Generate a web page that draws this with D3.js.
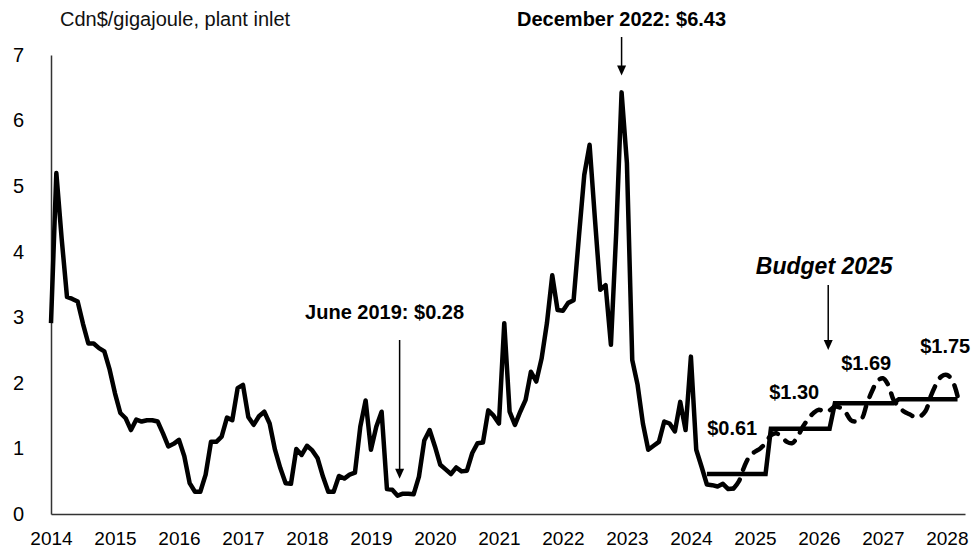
<!DOCTYPE html>
<html>
<head>
<meta charset="utf-8">
<script src="https://cdn.jsdelivr.net/npm/d3@7/dist/d3.min.js"></script>
<style>
  html, body { margin: 0; padding: 0; background: #fff; }
  svg { display: block; font-family: "Liberation Sans", Arial, Helvetica, sans-serif; }
</style>
</head>
<body>
<svg id="chart" width="974" height="548"></svg>
<script>
// Monthly natural gas price, Cdn$/GJ at plant inlet, from January 2014
const historyStart = 0;
const history = [
  2.91, 5.20, 4.20, 3.31, 3.28, 3.24, 2.90, 2.60, 2.60, 2.53, 2.48, 2.20,
  1.84, 1.54, 1.46, 1.28, 1.44, 1.41, 1.43, 1.43, 1.41, 1.23, 1.03, 1.07,
  1.13, 0.88, 0.47, 0.34, 0.34, 0.60, 1.10, 1.10, 1.18, 1.47, 1.43, 1.92,
  1.97, 1.48, 1.36, 1.49, 1.56, 1.38, 0.98, 0.70, 0.47, 0.46, 0.99, 0.90,
  1.04, 0.97, 0.85, 0.57, 0.34, 0.34, 0.58, 0.54, 0.60, 0.63, 1.33, 1.73,
  0.98, 1.33, 1.56, 0.38, 0.37, 0.28, 0.31, 0.31, 0.30, 0.57, 1.12, 1.28,
  1.03, 0.75, 0.68, 0.61, 0.71, 0.65, 0.66, 0.93, 1.08, 1.09, 1.58, 1.50,
  1.38, 2.91, 1.56, 1.36, 1.56, 1.74, 2.17, 2.02, 2.37, 2.91, 3.64, 3.11,
  3.10, 3.22, 3.26, 4.23, 5.17, 5.63, 4.50, 3.42, 3.49, 2.58, 4.30, 6.43,
  5.35, 2.35, 1.97, 1.38, 0.98, 1.04, 1.10, 1.41, 1.38, 1.26, 1.71, 1.28,
  2.40, 0.98, 0.72, 0.45, 0.44, 0.42, 0.46, 0.38, 0.39
];

// Monthly forecast path, September 2024 to March 2028
const forecastStart = 128;
const forecast = [
  0.39, 0.50, 0.72, 0.88, 0.95, 1.00, 1.08, 1.20, 1.23, 1.18, 1.10, 1.08,
  1.18, 1.33, 1.45, 1.54, 1.59, 1.56, 1.58, 1.64, 1.62, 1.55, 1.43, 1.41,
  1.45, 1.68, 1.88, 2.03, 2.07, 1.97, 1.74, 1.64, 1.56, 1.52, 1.48, 1.49,
  1.57, 1.80, 1.98, 2.10, 2.12, 2.04, 1.80
];

// Fiscal-year averages (April to March), starting April 2024
const budgetStart = 123;
const budgetLevels = [0.61, 1.30, 1.69, 1.75];

// Axis labels
const yearLabels = ["2014","2015","2016","2017","2018","2019","2020","2021",
                    "2022","2023","2024","2025","2026","2027","2028"];
const yTicks = [0, 1, 2, 3, 4, 5, 6, 7];

const unitLabel = "Cdn$/gigajoule, plant inlet";
const peakMonth = 107;   // December 2022
const lowMonth = 65;     // June 2019
const budgetArrowMonth = 145.75;

const svg = d3.select("#chart");
const plotLeft = 51, plotRight = 965, plotTop = 55, plotBottom = 514;

const x = d3.scaleLinear().domain([0, 171.4]).range([plotLeft, plotRight]);
const y = d3.scaleLinear().domain([0, 7]).range([plotBottom, plotTop]);

const fmt = d3.format("$.2f");

// Axes
const xAxis = d3.axisBottom(x)
  .tickValues(yearLabels.map((d, i) => i * 12))
  .tickFormat((d, i) => yearLabels[i])
  .tickSize(0).tickSizeOuter(0);

const gx = svg.append("g").attr("transform", `translate(0,${plotBottom})`).call(xAxis);
gx.select(".domain").attr("stroke", "#333").attr("stroke-width", 1.5);
gx.selectAll("text")
  .attr("y", 31).attr("dy", 0)
  .attr("font-size", 19).attr("fill", "#000")
  .style("font-family", "'Liberation Sans', Arial, sans-serif");

const yAxis = d3.axisLeft(y).tickValues(yTicks).tickFormat(d3.format("d"))
  .tickSize(0).tickSizeOuter(0).tickPadding(27);
const gy = svg.append("g").attr("transform", `translate(${plotLeft},0)`).call(yAxis);
gy.select(".domain").attr("stroke", "#333").attr("stroke-width", 1.5);
gy.selectAll("text")
  .attr("font-size", 20).attr("fill", "#000")
  .style("font-family", "'Liberation Sans', Arial, sans-serif");

// Unit label
svg.append("text")
  .attr("x", 60).attr("y", 26)
  .attr("font-size", 20).attr("fill", "#111")
  .text(unitLabel);

// Lines
const straight = d3.line().x(d => x(d[0])).y(d => y(d[1]));
const smooth = d3.line().x(d => x(d[0])).y(d => y(d[1])).curve(d3.curveCatmullRom.alpha(0.5));

const histPts = history.map((v, i) => [historyStart + i, v]);
const fcPts = forecast.map((v, i) => [forecastStart + i, v]);
const budgetPts = [];
budgetLevels.forEach((v, k) => {
  budgetPts.push([budgetStart + 12 * k, v]);
  budgetPts.push([budgetStart + 12 * k + 11, v]);
});

svg.append("path").datum(fcPts)
  .attr("d", smooth)
  .attr("fill", "none").attr("stroke", "#000").attr("stroke-width", 4.5)
  .attr("stroke-dasharray", "11,10").attr("stroke-linecap", "round");

svg.append("path").datum(histPts)
  .attr("d", straight)
  .attr("fill", "none").attr("stroke", "#000").attr("stroke-width", 4.5)
  .attr("stroke-linejoin", "round");

svg.append("path").datum(budgetPts)
  .attr("d", straight)
  .attr("fill", "none").attr("stroke", "#000").attr("stroke-width", 4.5)
  .attr("stroke-linejoin", "miter");

// Arrow helper
function arrow(x0, y0, y1) {
  svg.append("line")
    .attr("x1", x0).attr("x2", x0).attr("y1", y0).attr("y2", y1 - 8)
    .attr("stroke", "#000").attr("stroke-width", 1.5);
  svg.append("path")
    .attr("d", `M${x0 - 4.5},${y1 - 10}L${x0 + 4.5},${y1 - 10}L${x0},${y1}Z`)
    .attr("fill", "#000");
}

// Peak annotation
const peakX = x(peakMonth);
svg.append("text")
  .attr("x", peakX).attr("y", 26).attr("text-anchor", "middle")
  .attr("font-size", 20).attr("font-weight", "bold")
  .text(`December 2022: ${fmt(history[peakMonth - historyStart])}`);
arrow(peakX, 37, y(history[peakMonth - historyStart]) - 17);

// Low annotation
const lowX = x(lowMonth);
svg.append("text")
  .attr("x", lowX - 13).attr("y", 319).attr("text-anchor", "middle")
  .attr("font-size", 20).attr("font-weight", "bold")
  .text(`June 2019: ${fmt(history[lowMonth - historyStart])}`);
arrow(lowX + 2, 340, y(history[lowMonth - historyStart]) - 17);

// Budget annotation
const bx = x(budgetArrowMonth);
svg.append("text")
  .attr("x", bx - 4).attr("y", 274).attr("text-anchor", "middle")
  .attr("font-size", 23).attr("font-weight", "bold").attr("font-style", "italic")
  .text("Budget 2025");
arrow(bx, 285, 350);

// Fiscal-year value labels
const labelOffsets = [
  { dx: -4, dy: -39 },
  { dx: -6, dy: -30 },
  { dx: 2, dy: -33 },
  { dx: 17, dy: -46 }
];
budgetLevels.forEach((v, k) => {
  const mid = budgetStart + 12 * k + 5.5;
  svg.append("text")
    .attr("x", x(mid) + labelOffsets[k].dx)
    .attr("y", y(v) + labelOffsets[k].dy)
    .attr("text-anchor", "middle")
    .attr("font-size", 20).attr("font-weight", "bold")
    .text(fmt(v));
});
</script>
</body>
</html>
